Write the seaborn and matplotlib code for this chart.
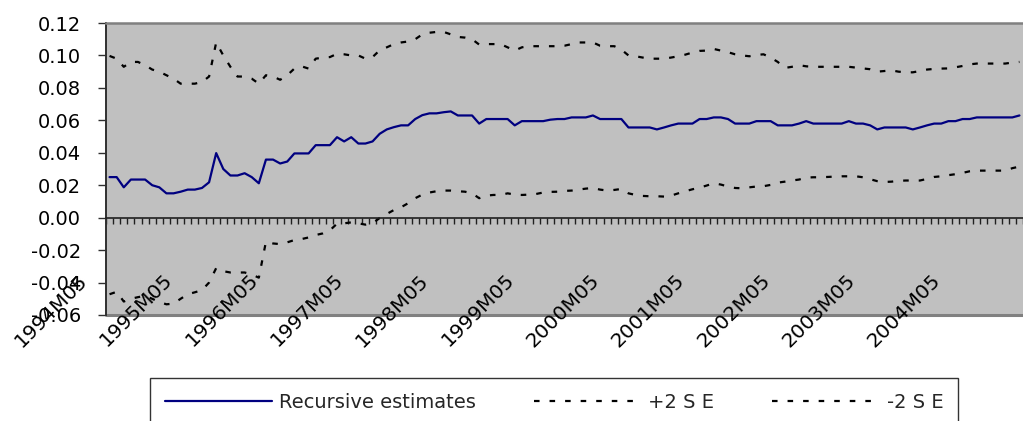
import numpy as np
import pandas as pd
import matplotlib
matplotlib.use("Agg")
import matplotlib.pyplot as plt
import matplotlib.transforms as mtransforms
from matplotlib.lines import Line2D
import seaborn as sns

# Monthly recursive coefficient estimates, 1994M05 onwards
recursive = [
    0.025, 0.025, 0.0187, 0.0235, 0.0235, 0.0235, 0.020, 0.0187, 0.015, 0.015,
    0.016, 0.0173, 0.0173, 0.0183, 0.0218, 0.0398, 0.030, 0.026, 0.026, 0.0274,
    0.025, 0.0212, 0.0358, 0.0358, 0.0334, 0.0346, 0.0396, 0.0396, 0.0396, 0.0447,
    0.0447, 0.0447, 0.0496, 0.047, 0.0496, 0.0457, 0.0457, 0.047, 0.0517, 0.0544,
    0.0558, 0.0569, 0.0569, 0.0608, 0.0632, 0.0643, 0.0643, 0.065, 0.0655, 0.063,
    0.063, 0.063, 0.058, 0.0608, 0.0608, 0.0608, 0.0608, 0.0569, 0.0595, 0.0595,
    0.0595, 0.0595, 0.0604, 0.0608, 0.0608, 0.0618, 0.0618, 0.0618, 0.063, 0.0608,
    0.0608, 0.0608, 0.0608, 0.0556, 0.0556, 0.0556, 0.0556, 0.0544, 0.0556, 0.0569,
    0.058, 0.058, 0.058, 0.0608, 0.0608, 0.0618, 0.0618, 0.0608, 0.058, 0.058,
    0.058, 0.0595, 0.0595, 0.0595, 0.0569, 0.0569, 0.0569, 0.058, 0.0595, 0.058,
    0.058, 0.058, 0.058, 0.058, 0.0595, 0.058, 0.058, 0.0569, 0.0544, 0.0556,
    0.0556, 0.0556, 0.0556, 0.0544, 0.0556, 0.0569, 0.058, 0.058, 0.0595, 0.0595,
    0.0608, 0.0608, 0.0618, 0.0618, 0.0618, 0.0618, 0.0618, 0.0618, 0.063,
]

# Upper band: estimate + 2 standard errors
upper_2se = [
    0.0997, 0.098, 0.093, 0.096, 0.096, 0.094, 0.0913, 0.090, 0.0878, 0.0857,
    0.0826, 0.0826, 0.0826, 0.0836, 0.087, 0.108, 0.100, 0.093, 0.087, 0.087,
    0.0857, 0.0826, 0.0878, 0.087, 0.085, 0.0878, 0.0919, 0.0933, 0.0919, 0.098,
    0.0987, 0.099, 0.101, 0.1007, 0.100, 0.100, 0.098, 0.099, 0.1032, 0.105,
    0.107, 0.108, 0.1086, 0.110, 0.113, 0.114, 0.1145, 0.1145, 0.113, 0.1114,
    0.111, 0.110, 0.1067, 0.107, 0.107, 0.107, 0.105, 0.103, 0.105, 0.1057,
    0.1057, 0.1057, 0.1057, 0.1057, 0.106, 0.107, 0.108, 0.108, 0.108, 0.106,
    0.1057, 0.1057, 0.1036, 0.100, 0.0995, 0.0987, 0.098, 0.098, 0.098, 0.0987,
    0.0995, 0.1005, 0.1018, 0.1028, 0.103, 0.104, 0.103, 0.102, 0.1007, 0.100,
    0.0995, 0.1003, 0.1007, 0.0987, 0.096, 0.0923, 0.093, 0.094, 0.0933, 0.093,
    0.093, 0.093, 0.093, 0.093, 0.093, 0.0925, 0.092, 0.0915, 0.090, 0.0904,
    0.0908, 0.090, 0.0896, 0.0896, 0.0904, 0.0913, 0.0917, 0.0919, 0.092, 0.0927,
    0.0935, 0.0945, 0.095, 0.095, 0.095, 0.095, 0.095, 0.0956, 0.096,
]

# Lower band: estimate - 2 standard errors
lower_2se = [
    -0.0472, -0.0457, -0.0517, -0.050, -0.049, -0.0482, -0.050, -0.052, -0.0534, -0.053,
    -0.050, -0.0472, -0.046, -0.0447, -0.040, -0.0311, -0.033, -0.0338, -0.0338, -0.0338,
    -0.035, -0.037, -0.0148, -0.0159, -0.0163, -0.0152, -0.0138, -0.0132, -0.0122, -0.0107,
    -0.0097, -0.0078, -0.0037, -0.0035, -0.0029, -0.0035, -0.0043, -0.0035, -0.0002, 0.0023,
    0.0047, 0.0064, 0.0089, 0.012, 0.0142, 0.0155, 0.0163, 0.0167, 0.0167, 0.0163,
    0.016, 0.015, 0.012, 0.0136, 0.014, 0.014, 0.015, 0.0142, 0.014, 0.0142,
    0.0146, 0.0155, 0.0159, 0.016, 0.0165, 0.0167, 0.0173, 0.0179, 0.0183, 0.0173,
    0.0167, 0.0171, 0.0177, 0.015, 0.014, 0.0134, 0.0132, 0.0132, 0.013, 0.0136,
    0.015, 0.0163, 0.0175, 0.0185, 0.0198, 0.0212, 0.0204, 0.0192, 0.0183, 0.0181,
    0.0187, 0.0192, 0.0194, 0.0202, 0.0216, 0.0222, 0.0229, 0.0235, 0.0247, 0.0249,
    0.0249, 0.0251, 0.0253, 0.0255, 0.0255, 0.0255, 0.0249, 0.0237, 0.0225, 0.022,
    0.0222, 0.0227, 0.0229, 0.0229, 0.0229, 0.0239, 0.0251, 0.0255, 0.0262, 0.0268,
    0.0276, 0.0286, 0.029, 0.029, 0.029, 0.029, 0.029, 0.0305, 0.0315,
]

year_labels = ["1994M05", "1995M05", "1996M05", "1997M05", "1998M05", "1999M05",
               "2000M05", "2001M05", "2002M05", "2003M05", "2004M05"]
y_ticks = [-0.06, -0.04, -0.02, 0.00, 0.02, 0.04, 0.06, 0.08, 0.10, 0.12]

series_names = ["Recursive estimates", "+2 S E", "-2 S E"]

n = len(recursive)
month_idx = np.arange(n)
df = pd.DataFrame({
    "month": np.concatenate([month_idx] * 3),
    "value": np.concatenate([recursive, upper_2se, lower_2se]),
    "series": np.repeat(series_names, n),
})

sns.set_theme(style="white")
plt.rcParams["font.family"] = ["DejaVu Sans"]

fig = plt.figure(figsize=(10.23, 4.21), dpi=100)
ax = fig.add_axes([106 / 1023, 1 - 315 / 421, 917 / 1023, (315 - 23) / 421])
ax.set_facecolor("#C0C0C0")

navy = "#000080"
dash = (0, (2.5, 4.5))
sns.lineplot(data=df[df.series == series_names[0]], x="month", y="value",
             color=navy, lw=1.6, ax=ax, legend=False)
sns.lineplot(data=df[df.series == series_names[1]], x="month", y="value",
             color="black", lw=1.6, ls=dash, ax=ax, legend=False)
sns.lineplot(data=df[df.series == series_names[2]], x="month", y="value",
             color="black", lw=1.6, ls=dash, ax=ax, legend=False)

ymin, ymax = -0.06, 0.12
ax.set_xlim(-0.5, n - 0.5)
ax.set_ylim(ymin, ymax)
ax.set_xlabel("")
ax.set_ylabel("")

# Category axis crossing at zero with a tick between every month
ax.spines["bottom"].set_position(("data", 0))
ax.spines["bottom"].set_color("#202020")
ax.spines["bottom"].set_linewidth(1.2)
ax.set_xticks(np.arange(-0.5, n, 1.0))
ax.tick_params(axis="x", direction="out", length=4, width=1.0, color="#202020",
               labelbottom=False, bottom=True)

# Plot-area frame
ax.spines["left"].set_color("#303030")
ax.spines["left"].set_linewidth(1.4)
ax.spines["top"].set_color("#808080")
ax.spines["top"].set_linewidth(1.8)
ax.spines["right"].set_visible(False)
ax.axhline(ymin, color="#808080", lw=2.2, clip_on=False)

ax.set_yticks(y_ticks)
ax.set_yticklabels([f"{v:.2f}" for v in y_ticks])
ax.tick_params(axis="y", direction="out", length=6, width=1.0, color="#303030",
               pad=12, labelsize=14, labelcolor="black", left=True)

# Rotated yearly labels sitting over the lower part of the plot
offset = mtransforms.ScaledTranslation(-25 / 100, 38 / 100, fig.dpi_scale_trans)
for k, lab in enumerate(year_labels):
    ax.text(k * 12, ymin, lab, rotation=45, rotation_mode="anchor",
            ha="right", va="center", fontsize=14.5, color="black",
            transform=ax.transData + offset, clip_on=False)

handles = [
    Line2D([], [], color=navy, lw=1.6),
    Line2D([], [], color="black", lw=1.6, ls=dash),
    Line2D([], [], color="black", lw=1.6, ls=dash),
]
leg = fig.legend(handles, series_names, loc="upper left",
                 bbox_to_anchor=(150 / 1023, -0.3, 808 / 1023, 0.3 + (1 - 378 / 421)),
                 mode="expand", ncol=3, fontsize=14, frameon=True, fancybox=False,
                 borderaxespad=0, borderpad=0.75, handlelength=5.5,
                 handletextpad=0.4, columnspacing=0.8)
leg.get_frame().set_edgecolor("black")
leg.get_frame().set_linewidth(1.0)
leg.get_frame().set_facecolor("white")

fig.savefig("out.png", dpi=100)
